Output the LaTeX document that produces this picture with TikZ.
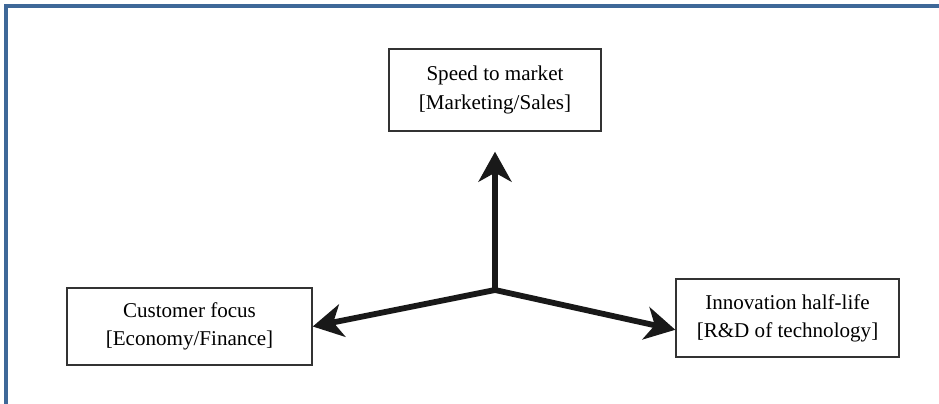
\documentclass[tikz,border=0pt]{standalone}
\usepackage{fontspec}
\setmainfont{Liberation Serif}
\usetikzlibrary{arrows.meta}
\definecolor{frameblue}{RGB}{62,104,152}
\begin{document}
\begin{tikzpicture}[
	x=0.02cm, y=-0.02cm,
	box/.style={ draw=black!80, line width=0.8pt, align=center, inner sep=0pt, font=\fontsize{12}{16}\selectfont },
	push/.style={ line width=3.3pt, black!90, -{Stealth[length=0.6cm,width=0.66cm,inset=0.18cm]} }
]

\useasboundingbox (0,0) rectangle (939,404);
\draw[frameblue, line width=2pt] (6,404) -- (6,6) -- (939,6);

\node at (495,90) (speed) [box, minimum width=212*0.02cm, minimum height=82*0.02cm] {Speed to market\\{[Marketing/Sales]}};
\node at (189.5,326.5) (customer) [box, minimum width=245*0.02cm, minimum height=77*0.02cm] {Customer focus\\{[Economy/Finance]}};
\node at (787.5,318) (innov) [box, minimum width=223*0.02cm, minimum height=78*0.02cm] {Innovation half-life\\{[R\&D of technology]}};

\coordinate (c) at (495,290);
\draw[push, shorten >=20*0.02cm] (c) -- (speed);
\draw[push] (c) -- (customer.east);
\draw[push] (c) -- (innov.186);

\end{tikzpicture}
\end{document}
